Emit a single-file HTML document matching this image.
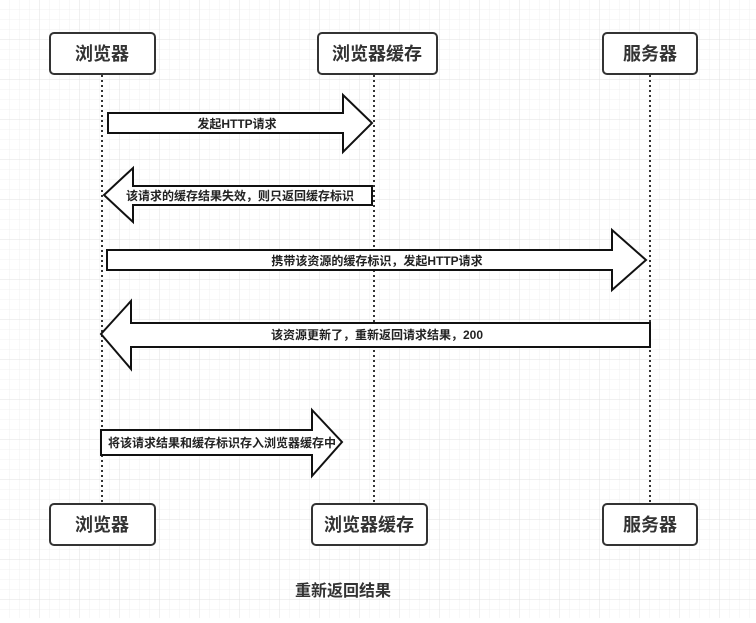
<!DOCTYPE html>
<html><head><meta charset="utf-8"><style>
html,body{margin:0;padding:0;background:#fff;}
body{width:756px;height:618px;overflow:hidden;font-family:"Liberation Sans","Noto Sans CJK SC",sans-serif;}
</style></head><body>
<svg width="756" height="618" xmlns="http://www.w3.org/2000/svg" font-family="Liberation Sans, Noto Sans CJK SC, sans-serif">
<defs>
<pattern id="g" width="10" height="10" patternUnits="userSpaceOnUse"><path d="M10 0V10H0" fill="none" stroke="#f0f0f0" stroke-width="1"/></pattern>
<pattern id="G" width="40" height="40" patternUnits="userSpaceOnUse"><rect width="40" height="40" fill="url(#g)"/><path d="M40 0V40H0" fill="none" stroke="#e2e2e2" stroke-width="1"/></pattern>
</defs>
<rect width="756" height="618" fill="url(#G)"/>
<g stroke="#333" stroke-width="2" stroke-dasharray="2,3">
<line x1="102" y1="75" x2="102" y2="504"/>
<line x1="374" y1="75" x2="374" y2="504"/>
<line x1="650" y1="75" x2="650" y2="504"/>
</g>
<g fill="#fff" stroke="#333" stroke-width="2">
<rect x="50" y="33" width="105" height="41" rx="4"/>
<rect x="318" y="33" width="119" height="41" rx="4"/>
<rect x="603" y="33" width="94" height="41" rx="4"/>
<rect x="50" y="504" width="105" height="41" rx="4"/>
<rect x="312" y="504" width="115" height="41" rx="4"/>
<rect x="603" y="504" width="94" height="41" rx="4"/>
</g>
<g fill="#333" font-size="18" font-weight="bold" text-anchor="middle">
<text x="102" y="60">浏览器</text>
<text x="377" y="60">浏览器缓存</text>
<text x="650" y="60">服务器</text>
<text x="102" y="531">浏览器</text>
<text x="369" y="531">浏览器缓存</text>
<text x="650" y="531">服务器</text>
</g>
<g fill="#fff" stroke="#111" stroke-width="2" stroke-linejoin="miter">
<polygon points="108,113 343,113 343,95 372,123 343,152 343,133 108,133"/>
<polygon points="372,186 133,186 133,168 104,195 133,222 133,205 372,205"/>
<polygon points="107,250 612,250 612,230 646,260 612,290 612,270 107,270"/>
<polygon points="650,323 131,323 131,301 101,334 131,369 131,347 650,347"/>
<polygon points="101,430 312,430 312,410 342,442 312,476 312,455 101,455"/>
</g>
<g fill="#222" font-size="12" font-weight="bold" text-anchor="middle">
<text x="237" y="128">发起HTTP请求</text>
<text x="240" y="200">该请求的缓存结果失效，则只返回缓存标识</text>
<text x="377" y="265">携带该资源的缓存标识，发起HTTP请求</text>
<text x="377" y="339">该资源更新了，重新返回请求结果，200</text>
<text x="222" y="447">将该请求结果和缓存标识存入浏览器缓存中</text>
</g>
<text x="343" y="596" font-size="16" font-weight="bold" fill="#333" text-anchor="middle">重新返回结果</text>
</svg>
</body></html>
